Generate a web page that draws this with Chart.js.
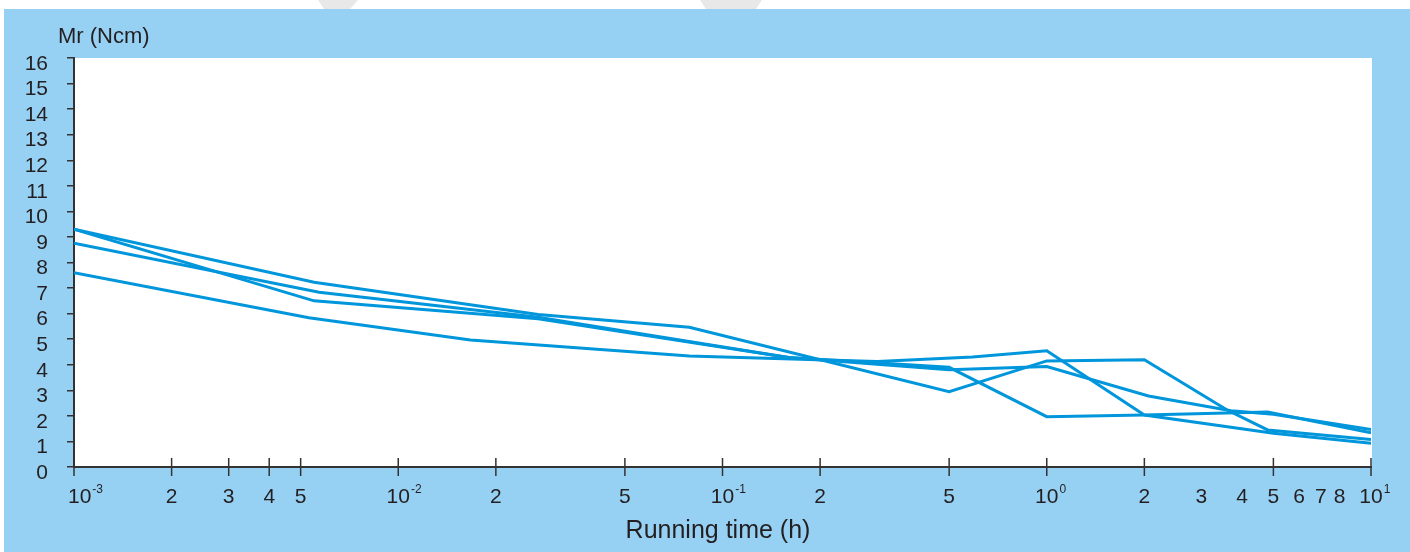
<!DOCTYPE html>
<html lang="en">
<head>
<meta charset="UTF-8">
<title>Mr vs running time</title>
<script src="https://cdn.jsdelivr.net/npm/chart.js"></script>
<style>
  html, body { margin: 0; padding: 0; background: #fff; }
  canvas { display: block; }
</style>
</head>
<body>
<canvas id="mr-chart" width="1410" height="552"></canvas>
<script>
// four test runs: running time (h) and Mr (Ncm)
var timeA = [0.001, 0.0055, 0.027, 0.079, 0.5, 1, 2, 3.6, 4.8, 10];
var mrA   = [9.3, 7.23, 5.97, 5.47, 2.95, 4.15, 4.2, 2.23, 1.45, 1.08];

var timeB = [0.001, 0.0055, 0.027, 0.16, 0.5, 1, 2, 4.8, 10];
var mrB   = [9.3, 6.5, 5.8, 4.28, 3.9, 1.97, 2.03, 2.15, 1.34];

var timeC = [0.001, 0.0057, 0.027, 0.16, 0.5, 1, 2.06, 3.7, 5, 10];
var mrC   = [8.75, 6.84, 5.86, 4.28, 3.8, 3.93, 2.78, 2.2, 2.06, 1.47];

var timeD = [0.001, 0.0053, 0.0167, 0.079, 0.3, 0.59, 1, 2, 5, 10];
var mrD   = [7.6, 5.84, 4.97, 4.34, 4.13, 4.3, 4.55, 2.03, 1.32, 0.93];

// x axis: where the tick marks are, and the labels written under the axis
var xTickMarks = [0.001, 0.002, 0.003, 0.004, 0.005, 0.01, 0.02, 0.05, 0.1, 0.2, 0.5, 1, 2, 5, 10];
var xLabelValues = [0.001, 0.002, 0.003, 0.004, 0.005, 0.01, 0.02, 0.05, 0.1, 0.2, 0.5, 1, 2, 3, 4, 5, 6, 7, 8, 10];
var xLabelBase = ['10', '2', '3', '4', '5', '10', '2', '5', '10', '2', '5', '10', '2', '3', '4', '5', '6', '7', '8', '10'];
var xLabelExp  = ['-3', '', '', '', '', '-2', '', '', '-1', '', '', '0', '', '', '', '', '', '', '', '1'];

var FONT = '"Liberation Sans", Arial, sans-serif';
var INK = '#231f20';
var AXIS = '#333333';

function toPoints(xs, ys) {
    return xs.map(function(x, i) { return { x: x, y: ys[i] }; });
}

function run(label, xs, ys) {
    return {
        label: label,
        data: toPoints(xs, ys),
        borderColor: '#0096db',
        borderWidth: 3,
        pointRadius: 0,
        tension: 0,
        fill: false
    };
}

var framePlugin = {
    id: 'frame',
    beforeDraw: function(chart) {
        var ctx = chart.ctx, a = chart.chartArea;
        ctx.save();
        ctx.fillStyle = '#ffffff';
        ctx.fillRect(0, 0, chart.width, chart.height);
        // faint watermark bits in the top strip
        ctx.fillStyle = '#e8e8e8';
        ctx.beginPath();
        ctx.moveTo(318, 0); ctx.lineTo(358, 0); ctx.lineTo(350, 9); ctx.lineTo(324, 9);
        ctx.closePath(); ctx.fill();
        ctx.beginPath();
        ctx.moveTo(700, 0); ctx.lineTo(762, 0); ctx.lineTo(756, 9); ctx.lineTo(706, 9);
        ctx.closePath(); ctx.fill();
        ctx.fillStyle = '#96d1f4';
        ctx.fillRect(4, 9, chart.width - 4, chart.height - 9);
        ctx.fillStyle = '#ffffff';
        ctx.fillRect(a.left, a.top, a.right - a.left + 1, a.bottom - a.top);
        ctx.restore();
    },
    afterDraw: function(chart) {
        var ctx = chart.ctx, a = chart.chartArea, xs = chart.scales.x;
        ctx.save();

        // tick marks crossing the x axis
        ctx.strokeStyle = AXIS;
        ctx.lineWidth = 1.5;
        xTickMarks.forEach(function(v) {
            var px = xs.getPixelForValue(v);
            ctx.beginPath();
            ctx.moveTo(px, v === xs.min ? a.bottom : a.bottom - 9);
            ctx.lineTo(px, a.bottom + 9);
            ctx.stroke();
        });

        // x labels, powers of ten with a raised exponent
        ctx.fillStyle = INK;
        ctx.textBaseline = 'middle';
        ctx.textAlign = 'left';
        xLabelValues.forEach(function(v, i) {
            var px = xs.getPixelForValue(v);
            ctx.font = '21px ' + FONT;
            var w = ctx.measureText(xLabelBase[i]).width;
            var left = Math.max(px - w / 2, a.left - 6);
            ctx.fillText(xLabelBase[i], left, 497);
            if (xLabelExp[i]) {
                ctx.font = '12px ' + FONT;
                ctx.fillText(xLabelExp[i], left + w + 1, 490);
            }
        });

        // axis titles
        ctx.textBaseline = 'alphabetic';
        ctx.font = '22px ' + FONT;
        ctx.fillText('Mr (Ncm)', 58, 43);
        ctx.textAlign = 'center';
        ctx.font = '25px ' + FONT;
        ctx.fillText('Running time (h)', 718, 538);
        ctx.restore();
    }
};

var ctx = document.getElementById('mr-chart').getContext('2d');
var mrChart = new Chart(ctx, {
    type: 'line',
    data: {
        datasets: [
            run('Run 1', timeA, mrA),
            run('Run 2', timeB, mrB),
            run('Run 3', timeC, mrC),
            run('Run 4', timeD, mrD)
        ]
    },
    options: {
        responsive: false,
        animation: false,
        devicePixelRatio: 1,
        layout: { padding: { top: 58, right: 39, left: 0, bottom: 0 } },
        plugins: {
            legend: { display: false },
            tooltip: { enabled: false }
        },
        scales: {
            x: {
                type: 'logarithmic',
                min: 0.001,
                max: 10,
                ticks: { display: false },
                grid: { display: false },
                border: { display: true, color: AXIS, width: 2 },
                afterFit: function(scale) { scale.height = 85; }
            },
            y: {
                type: 'linear',
                min: 0,
                max: 16,
                ticks: {
                    stepSize: 1,
                    autoSkip: false,
                    color: INK,
                    font: { family: FONT, size: 21 },
                    padding: 19,
                    labelOffset: 6
                },
                grid: {
                    drawOnChartArea: false,
                    drawTicks: true,
                    tickLength: 7,
                    color: AXIS,
                    lineWidth: 1.5
                },
                border: { display: true, color: AXIS, width: 2 },
                afterFit: function(scale) { scale.width = 74; }
            }
        }
    },
    plugins: [framePlugin]
});
</script>
</body>
</html>
